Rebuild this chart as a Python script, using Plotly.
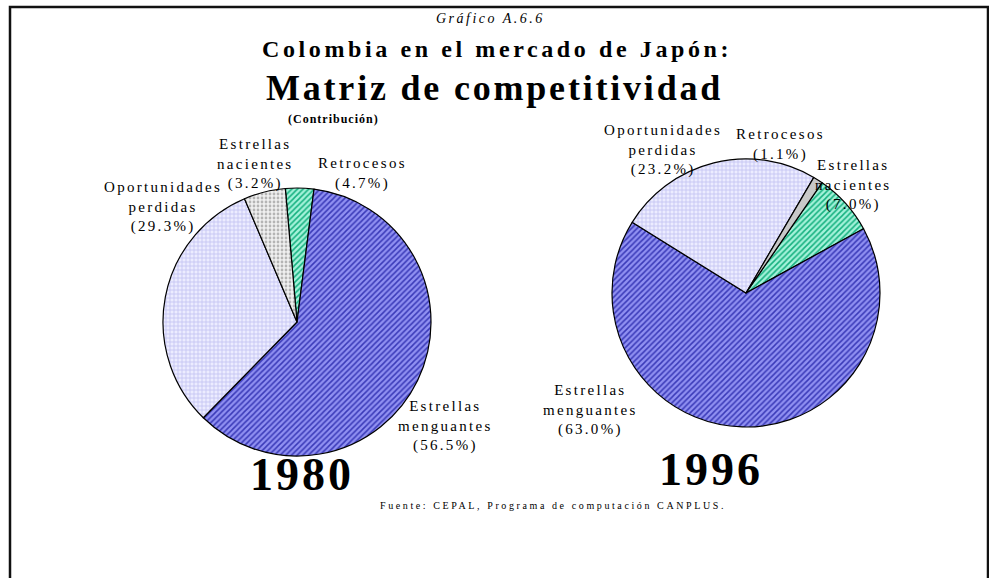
import plotly.graph_objects as go

W, H = 989, 578

# ---- data ----
categories = ["Estrellas nacientes", "Estrellas menguantes", "Oportunidades perdidas", "Retrocesos"]
values_1980 = [3.2, 56.5, 29.3, 4.7]
values_1996 = [7.0, 63.0, 23.2, 1.1]
years = ["1980", "1996"]

title_top = "Gráfico A.6.6"
title_main1 = "Colombia en el mercado de Japón:"
title_main2 = "Matriz de competitividad"
subtitle = "(Contribución)"
source = "Fuente: CEPAL, Programa de computación CANPLUS."


def px(x):
    return x / W


def py(y):
    return 1 - y / H


SERIF = "Liberation Serif, Times New Roman, serif"

# styles (per category order)
bg_1980 = ["#a4f2da", "#9090f2", "#ececff", "#f0f0f0"]
fg_1980 = ["#14b07e", "#3a3ab8", "#c4c4f2", "#b4b4b4"]
sh_1980 = ["/", "/", "+", "."]
bg_1996 = ["#a4f2da", "#9090f2", "#ececff", "#c8c8c8"]
fg_1996 = ["#14b07e", "#3a3ab8", "#c4c4f2", "#c8c8c8"]
sh_1996 = ["/", "/", "+", ""]

R = 134
centers = [(297, 322), (746, 293)]


def pie(values, center, bg, fg, sh, rotation):
    cx, cy = center
    return go.Pie(
        labels=categories,
        values=values,
        sort=False,
        direction="clockwise",
        rotation=rotation,
        textinfo="none",
        hoverinfo="label+value",
        showlegend=False,
        domain=dict(x=[px(cx - R), px(cx + R)], y=[py(cy + R), py(cy - R)]),
        marker=dict(
            colors=bg,
            line=dict(color="#000000", width=1.2),
            pattern=dict(shape=sh, fgcolor=fg, bgcolor=bg, size=4, solidity=0.38, fillmode="replace"),
        ),
    )


fig = go.Figure()
fig.add_trace(pie(values_1980, centers[0], bg_1980, fg_1980, sh_1980, -5))
fig.add_trace(pie(values_1996, centers[1], bg_1996, fg_1996, sh_1996, 34.6))

annotations = []


def spaced(line, ls):
    return f'<span style="letter-spacing:{ls}px">{line}</span>'


def ann(lines, x, y, size, ls=0.0, bold=False, italic=False):
    parts = []
    for ln in lines:
        t = spaced(ln, ls) if ls else ln
        if bold:
            t = "<b>" + t + "</b>"
        if italic:
            t = "<i>" + t + "</i>"
        parts.append(t)
    annotations.append(dict(
        text="<br>".join(parts), x=px(x), y=py(y), xref="paper", yref="paper",
        xanchor="center", yanchor="middle", showarrow=False, align="center",
        font=dict(family=SERIF, size=size, color="#000000"),
    ))


ann([title_top], 490, 18, 14, ls=2.5, italic=True)
ann([title_main1], 497, 49, 24, ls=3.6, bold=True)
ann([title_main2], 494, 88, 36, ls=2.8, bold=True)
ann([subtitle], 333, 119, 12, ls=1.0, bold=True)

# label positions (per category order)
label_pos = {
    "1980": [(255, 164), (445, 426), (163, 207), (362, 173)],
    "1996": [(853, 185), (590, 410), (663, 150), (780, 144)],
}

for yr, vals in zip(years, [values_1980, values_1996]):
    for cat, v, (x, y) in zip(categories, vals, label_pos[yr]):
        lines = cat.split(" ") + ["(" + f"{v:.1f}" + "%)"]
        ann(lines, x, y, 15, ls=2.3)

ann([years[0]], 302, 474, 46, ls=3.0, bold=True)
ann([years[1]], 711, 469, 46, ls=3.0, bold=True)
ann([source], 553, 505, 10, ls=2.6)

fig.update_layout(
    width=W, height=H,
    margin=dict(l=0, r=0, t=0, b=0),
    paper_bgcolor="#ffffff",
    plot_bgcolor="#ffffff",
    annotations=annotations,
    shapes=[dict(type="rect", xref="paper", yref="paper",
                 x0=px(10), x1=px(988), y0=-0.05, y1=py(7),
                 line=dict(color="#111111", width=2.5), fillcolor="rgba(0,0,0,0)")],
)

fig.write_html("out.html", config={"displayModeBar": False},
               post_script="document.body.style.margin='0';document.body.style.overflow='hidden';")
